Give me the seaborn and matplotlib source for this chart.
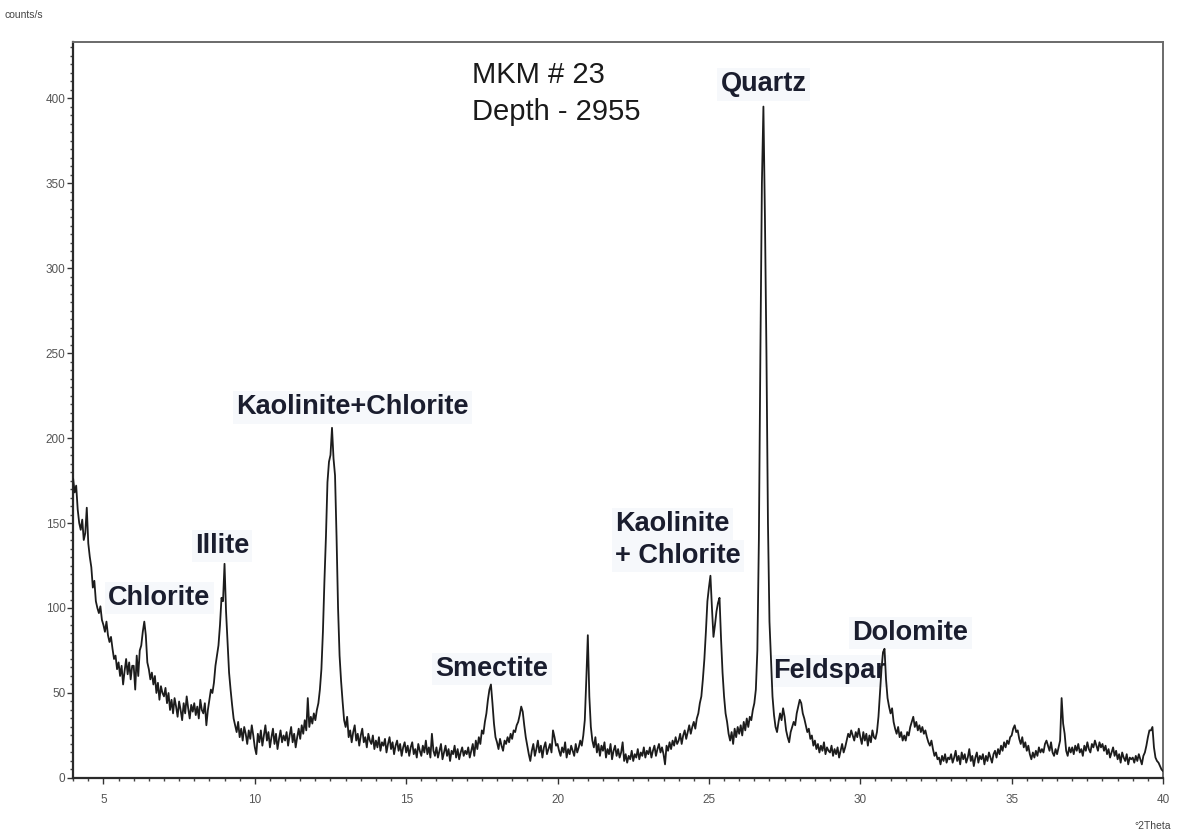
import numpy as np
import pandas as pd
import matplotlib
matplotlib.use("Agg")
import matplotlib.pyplot as plt
from matplotlib.ticker import MultipleLocator
import seaborn as sns

# Scan settings (degrees 2-theta)
scan_start = 4.0
scan_step = 0.05

# Counts per second, one row per degree (20 steps of 0.05 deg)
counts_04_10 = [
    176, 168, 172, 158, 150, 146, 152, 140, 144, 159, 138, 130, 124, 112, 116, 104, 100, 97, 101, 93,
    90, 86, 92, 84, 80, 83, 76, 70, 72, 64, 68, 60, 66, 55, 63, 70, 61, 68, 58, 66,
    66, 52, 72, 60, 75, 78, 86, 92, 84, 68, 64, 58, 62, 55, 60, 50, 56, 46, 54, 50,
    48, 53, 44, 50, 40, 46, 38, 47, 42, 36, 45, 40, 34, 44, 38, 48, 41, 35, 43, 39,
    44, 37, 42, 35, 46, 40, 38, 44, 31, 40, 46, 52, 50, 56, 66, 72, 78, 90, 106, 104,
    126, 98, 80, 62, 52, 43, 35, 31, 27, 33, 24, 29, 22, 30, 26, 20, 28, 23, 31, 25,
]
counts_10_16 = [
    18, 14, 26, 21, 28, 19, 25, 31, 22, 27, 18, 24, 29, 20, 26, 17, 23, 28, 21, 25,
    22, 27, 19, 25, 30, 21, 26, 18, 24, 29, 23, 31, 26, 34, 28, 47, 30, 36, 32, 38,
    34, 40, 44, 52, 64, 86, 116, 142, 174, 186, 190, 206, 188, 178, 142, 100, 72, 57, 45, 34,
    30, 36, 24, 28, 21, 27, 31, 22, 26, 19, 25, 29, 21, 24, 18, 26, 22, 20, 25, 17,
    22, 18, 24, 16, 21, 19, 23, 15, 20, 24, 17, 21, 14, 19, 22, 16, 20, 13, 18, 21,
    15, 19, 13, 18, 21, 14, 17, 12, 20, 16, 13, 19, 15, 22, 14, 18, 12, 26, 16, 13,
]
counts_16_22 = [
    18, 12, 16, 20, 11, 15, 19, 13, 17, 10, 16, 14, 19, 12, 17, 11, 15, 18, 13, 16,
    14, 18, 12, 16, 20, 13, 22, 17, 24, 20, 28, 26, 33, 38, 46, 52, 55, 44, 32, 24,
    21, 17, 23, 19, 16, 22, 20, 24, 21, 26, 23, 28, 27, 31, 33, 37, 42, 39, 31, 24,
    19, 14, 10, 16, 20, 13, 17, 22, 15, 19, 12, 18, 21, 14, 17, 20, 15, 28, 24, 19,
    20, 16, 13, 18, 15, 21, 12, 17, 14, 19, 16, 13, 20, 15, 18, 22, 19, 25, 34, 58,
    84, 48, 30, 22, 18, 24, 15, 20, 13, 19, 16, 21, 12, 17, 14, 20, 11, 16, 19, 13,
]
counts_22_28 = [
    17, 12, 15, 21, 10, 14, 9, 13, 11, 16, 10, 14, 12, 17, 11, 15, 13, 18, 12, 16,
    14, 18, 12, 16, 19, 13, 17, 20, 15, 18, 14, 8, 19, 16, 21, 17, 22, 19, 24, 20,
    22, 26, 20, 25, 28, 23, 27, 31, 26, 30, 33, 29, 35, 38, 44, 48, 58, 70, 86, 104,
    112, 119, 100, 83, 90, 98, 103, 106, 82, 62, 48, 38, 33, 26, 22, 27, 20, 29, 24, 30,
    26, 31, 25, 33, 28, 35, 30, 36, 34, 40, 44, 52, 75, 140, 250, 350, 395, 330, 250, 150,
    92, 70, 48, 37, 30, 27, 33, 38, 34, 41, 36, 28, 24, 21, 27, 30, 33, 31, 38, 42,
]
counts_28_34 = [
    46, 44, 38, 35, 31, 27, 29, 23, 25, 19, 22, 17, 20, 15, 19, 16, 21, 14, 18, 16,
    15, 19, 13, 17, 14, 18, 12, 16, 20, 15, 18, 22, 26, 24, 28, 25, 22, 27, 24, 29,
    24, 20, 27, 22, 26, 19, 25, 21, 28, 24, 23, 27, 36, 50, 64, 74, 76, 58, 47, 42,
    38, 41, 33, 29, 26, 30, 24, 27, 22, 25, 22, 27, 25, 30, 33, 36, 30, 33, 28, 31,
    27, 30, 26, 28, 24, 21, 19, 22, 17, 13, 15, 11, 12, 8, 13, 10, 14, 9, 12, 11,
    14, 9, 12, 16, 10, 13, 8, 15, 11, 14, 9, 12, 17, 10, 13, 7, 12, 15, 9, 13,
]
counts_34_40 = [
    11, 14, 8, 13, 10, 15, 12, 9, 14, 16, 12, 17, 14, 19, 16, 21, 18, 22, 20, 24,
    25, 29, 31, 27, 28, 23, 20, 24, 18, 21, 16, 19, 14, 11, 15, 12, 16, 13, 18, 15,
    17, 15, 20, 22, 19, 16, 21, 15, 13, 17, 14, 18, 22, 47, 32, 26, 16, 13, 18, 15,
    18, 14, 19, 16, 20, 15, 17, 13, 19, 16, 21, 17, 15, 20, 18, 22, 19, 16, 21, 18,
    20, 16, 19, 14, 17, 12, 15, 18, 13, 16, 11, 14, 9, 15, 12, 10, 14, 8, 12, 11,
    12, 9, 13, 10, 14, 11, 8, 13, 15, 19, 24, 28, 28, 30, 18, 12, 10, 9, 7, 5,
    4,
]

# Phase labels: (text, 2-theta, counts, horizontal alignment)
phase_labels = [
    ("Quartz", 26.80, 408, "center"),
    ("Kaolinite+Chlorite", 13.22, 218, "center"),
    ("Illite", 8.92, 136.5, "center"),
    ("Chlorite", 6.84, 106, "center"),
    ("Smectite", 17.84, 64, "center"),
    ("Kaolinite", 21.91, 149.4, "left"),
    ("+ Chlorite", 21.91, 130.6, "left"),
    ("Feldspar", 28.98, 63, "center"),
    ("Dolomite", 31.66, 85.3, "center"),
]
sample_lines = ["MKM # 23", "Depth - 2955"]

counts = np.array(counts_04_10 + counts_10_16 + counts_16_22 +
                  counts_22_28 + counts_28_34 + counts_34_40, dtype=float)
two_theta = np.round(scan_start + scan_step * np.arange(len(counts)), 2)
df = pd.DataFrame({"two_theta": two_theta, "counts": counts})

sns.set_theme(style="ticks")
plt.rcParams["font.family"] = ["Liberation Sans", "DejaVu Sans"]

fig = plt.figure(figsize=(11.78, 8.35), dpi=100)
ax = fig.add_axes([0.0621, 0.0683, 0.9252, 0.8814])

sns.lineplot(data=df, x="two_theta", y="counts", ax=ax, color="#1c1c1c",
             linewidth=1.3, sort=False, estimator=None, zorder=3)

ax.set_xlim(4, 40)
ax.set_ylim(0, 433)
ax.set_xlabel("")
ax.set_ylabel("")

ax.xaxis.set_major_locator(MultipleLocator(5))
ax.xaxis.set_minor_locator(MultipleLocator(0.5))
ax.yaxis.set_major_locator(MultipleLocator(50))
ax.yaxis.set_minor_locator(MultipleLocator(5))
ax.tick_params(axis="both", which="major", direction="out", length=4.5, width=1.0,
               color="#333333", labelsize=8.5, labelcolor="#555555")
ax.tick_params(axis="y", which="major", pad=1)
ax.tick_params(axis="x", which="major", pad=7)
ax.tick_params(axis="both", which="minor", direction="out", length=2.5, width=1.0,
               color="#444444")

for side in ["left", "bottom"]:
    ax.spines[side].set_color("#2a2a2a")
    ax.spines[side].set_linewidth(1.6)
for side in ["top", "right"]:
    ax.spines[side].set_color("#6a6a6a")
    ax.spines[side].set_linewidth(1.4)

# Phase names sit beneath the trace so peaks stay visible through them
for text, x, y, ha in phase_labels:
    ax.text(x, y, text, ha=ha, va="center", fontsize=19.5, fontweight="bold",
            color="#1a1d2e", zorder=1,
            bbox=dict(boxstyle="square,pad=0.12", facecolor="#f6f8fb",
                      edgecolor="none", alpha=0.9))

ax.text(17.18, 413.5, sample_lines[0], ha="left", va="center", fontsize=21,
        color="#1a1a1a")
ax.text(17.18, 392, sample_lines[1], ha="left", va="center", fontsize=21,
        color="#1a1a1a")

fig.text(0.004, 0.982, "counts/s", ha="left", va="center", fontsize=7.5,
         color="#444444")
fig.text(0.994, 0.011, "°2Theta", ha="right", va="center", fontsize=7.5,
         color="#444444")

fig.savefig("out.png", dpi=100, facecolor="white")
